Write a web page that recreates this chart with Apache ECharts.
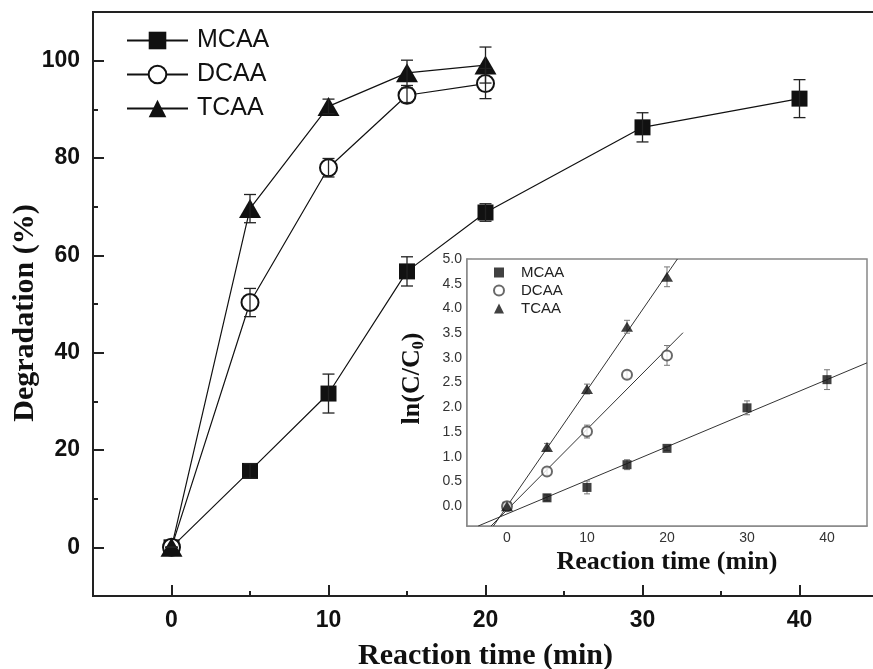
<!DOCTYPE html>
<html><head><meta charset="utf-8">
<script src="https://cdn.jsdelivr.net/npm/echarts@6/dist/echarts.min.js"></script>
<style>html,body{margin:0;padding:0;background:#fff}#c{width:873px;height:669px}</style>
</head><body><div id="c"></div>
<script>
// ---- data ----
const times = [0, 5, 10, 15, 20, 30, 40];
const timesShort = [0, 5, 10, 15, 20];
const mcaaDeg = [0, 15.7, 31.6, 56.7, 68.8, 86.3, 92.2];
const mcaaDegErr = [0, 1.5, 4.0, 3.0, 1.8, 3.0, 3.9];
const dcaaDeg = [0, 50.3, 78.0, 92.9, 95.3];
const dcaaDegErr = [0, 2.9, 1.9, 1.5, 3.1];
const tcaaDeg = [0, 69.6, 90.6, 97.5, 99.1];
const tcaaDegErr = [0, 2.9, 1.5, 2.6, 3.7];
const mcaaLn = [0, 0.17, 0.38, 0.84, 1.17, 1.99, 2.56];
const mcaaLnErr = [0, 0.06, 0.13, 0.10, 0.04, 0.14, 0.20];
const dcaaLn = [0, 0.70, 1.51, 2.66, 3.05];
const dcaaLnErr = [0, 0.07, 0.13, 0.07, 0.20];
const tcaaLn = [0, 1.20, 2.37, 3.63, 4.64];
const tcaaLnErr = [0, 0.07, 0.10, 0.13, 0.20];
const mcaaFit = [[-3.6, -0.4], [45, 2.9]];
const dcaaFit = [[-2.0, -0.4], [22, 3.51]];
const tcaaFit = [[-1.7, -0.4], [21.3, 5.0]];
const mainXTicks = [0, 10, 20, 30, 40];
const mainXMinor = [5, 15, 25, 35];
const mainYTicks = [0, 20, 40, 60, 80, 100];
const mainYMinor = [10, 30, 50, 70, 90];
const insetXTicks = [0, 10, 20, 30, 40];
const insetXMinor = [5, 15, 25, 35];
const insetYTicks = [0, 0.5, 1.0, 1.5, 2.0, 2.5, 3.0, 3.5, 4.0, 4.5, 5.0];
const insetYMinor = [-0.25, 0.25, 0.75, 1.25, 1.75, 2.25, 2.75, 3.25, 3.75, 4.25, 4.75];
const names = ['MCAA', 'DCAA', 'TCAA'];

const INK = '#111';
const GRAY = '#777';
const pairs = (xs, ys) => xs.map((x, i) => [x, ys[i]]);

function errSeries(xs, ys, es, ai, color, cap, lw) {
  return {
    type: 'custom', xAxisIndex: ai, yAxisIndex: ai, silent: true, z: 4,
    encode: { x: 0, y: [1, 2] },
    data: xs.map((x, i) => [x, ys[i] - es[i], ys[i] + es[i]]),
    renderItem(params, api) {
      const x = api.value(0);
      const lo = api.coord([x, api.value(1)]);
      const hi = api.coord([x, api.value(2)]);
      const st = { stroke: color, lineWidth: lw };
      return { type: 'group', children: [
        { type: 'line', shape: { x1: lo[0], y1: lo[1], x2: hi[0], y2: hi[1] }, style: st },
        { type: 'line', shape: { x1: lo[0] - cap, y1: lo[1], x2: lo[0] + cap, y2: lo[1] }, style: st },
        { type: 'line', shape: { x1: hi[0] - cap, y1: hi[1], x2: hi[0] + cap, y2: hi[1] }, style: st }
      ]};
    }
  };
}

function axis(base) {
  const a = Object.assign({ type: 'value', splitLine: { show: false }, nameMoveOverlap: false }, base);
  a.axisLine = Object.assign({ onZero: false }, a.axisLine || {});
  return a;
}
// tick-only axis
function tickAxis(grid, pos, min, max, values, len, color, w) {
  return axis({ gridIndex: grid, position: pos, min: min, max: max, axisLine: { show: false },
    axisTick: { show: true, inside: true, length: len, lineStyle: { color: color, width: w }, customValues: values },
    axisLabel: { show: false } });
}

const chart = echarts.init(document.getElementById('c'), null, { renderer: 'canvas' });
const mainLbl = { fontFamily: 'Liberation Sans', fontWeight: 'bold', fontSize: 23, color: INK };
const insetLbl = { fontFamily: 'Liberation Sans', fontSize: 14, color: '#333' };
const serifBold = { fontFamily: 'Liberation Serif', fontWeight: 'bold', color: INK };

chart.setOption({
  animation: false,
  backgroundColor: '#fff',
  grid: [
    { left: 93, top: 12, right: -5, bottom: 73, show: true, borderColor: '#222', borderWidth: 2,
      backgroundColor: 'transparent', outerBoundsMode: 'none', containLabel: false },
    { left: 467, top: 259, right: 6, bottom: 143, show: true, borderColor: '#888', borderWidth: 1.5,
      backgroundColor: '#fff', z: 1, outerBoundsMode: 'none', containLabel: false }
  ],
  xAxis: [
    axis({ gridIndex: 0, position: 'bottom', min: -5, max: 45,
      axisLine: { lineStyle: { color: '#222', width: 2 } },
      axisTick: { show: false },
      axisLabel: Object.assign({ margin: 13, customValues: mainXTicks }, mainLbl),
      name: 'Reaction time (min)', nameLocation: 'middle', nameGap: 45,
      nameTextStyle: Object.assign({ fontSize: 30 }, serifBold) }),
    tickAxis(0, 'bottom', -5, 45, mainXTicks, 11, '#222', 2),
    tickAxis(0, 'bottom', -5, 45, mainXMinor, 5, '#222', 2),
    axis({ gridIndex: 1, position: 'bottom', min: -5, max: 45,
      axisLine: { lineStyle: { color: GRAY, width: 1.5 } },
      axisTick: { show: false },
      axisLabel: Object.assign({ margin: 5, customValues: insetXTicks }, insetLbl),
      name: 'Reaction time (min)', nameLocation: 'middle', nameGap: 23,
      nameTextStyle: Object.assign({ fontSize: 26 }, serifBold) }),
    tickAxis(1, 'bottom', -5, 45, insetXTicks, 5, GRAY, 1.2),
    tickAxis(1, 'bottom', -5, 45, insetXMinor, 3, GRAY, 1.2)
  ],
  yAxis: [
    axis({ gridIndex: 0, position: 'left', min: -10, max: 110,
      axisLine: { lineStyle: { color: '#222', width: 2 } },
      axisTick: { show: false },
      axisLabel: Object.assign({ margin: 13, customValues: mainYTicks }, mainLbl),
      name: 'Degradation (%)', nameLocation: 'middle', nameGap: 53,
      nameTextStyle: Object.assign({ fontSize: 30, padding: [0, 18, 0, 0] }, serifBold) }),
    tickAxis(0, 'left', -10, 110, mainYTicks, 11, '#222', 2),
    tickAxis(0, 'left', -10, 110, mainYMinor, 5, '#222', 2),
    axis({ gridIndex: 1, position: 'left', min: -0.4, max: 5.0,
      axisLine: { lineStyle: { color: GRAY, width: 1.5 } },
      axisTick: { show: false },
      axisLabel: Object.assign({ margin: 5, customValues: insetYTicks, formatter: v => v.toFixed(1) }, insetLbl),
      name: '{a|ln(C/C}{s|0}{a|)}', nameLocation: 'middle', nameGap: 40,
      nameTextStyle: { padding: [0, 0, 0, 28], rich: {
        a: Object.assign({ fontSize: 26, lineHeight: 30 }, serifBold),
        s: Object.assign({ fontSize: 16, lineHeight: 30, verticalAlign: 'bottom' }, serifBold) } } }),
    tickAxis(1, 'left', -0.4, 5.0, insetYTicks, 5, GRAY, 1.2),
    tickAxis(1, 'left', -0.4, 5.0, insetYMinor, 3, GRAY, 1.2)
  ],
  legend: [
    { data: names, orient: 'vertical', left: 126, top: 28, padding: 0, itemWidth: 61, itemHeight: 22, itemGap: 9,
      textStyle: { fontFamily: 'Liberation Sans', fontSize: 25, color: INK, padding: [0, 0, 0, 4] } },
    { data: names.map(n => n + ' ln'), orient: 'vertical', left: 493, top: 265, padding: 0, itemWidth: 10, itemHeight: 10, itemGap: 3,
      formatter: n => n.replace(' ln', ''),
      textStyle: { fontFamily: 'Liberation Sans', fontSize: 15, color: '#222', padding: [0, 0, 0, 12] } }
  ],
  series: [
    { name: 'MCAA', type: 'line', xAxisIndex: 0, yAxisIndex: 0, data: pairs(times, mcaaDeg),
      symbol: 'rect', symbolSize: 16, color: INK, lineStyle: { color: INK, width: 1.2 }, itemStyle: { color: INK } },
    { name: 'DCAA', type: 'line', xAxisIndex: 0, yAxisIndex: 0, data: pairs(timesShort, dcaaDeg),
      symbol: 'emptyCircle', symbolSize: 17, color: INK, lineStyle: { color: INK, width: 1.2 }, itemStyle: { color: INK, borderWidth: 1.5 } },
    { name: 'TCAA', type: 'line', xAxisIndex: 0, yAxisIndex: 0, data: pairs(timesShort, tcaaDeg),
      symbol: 'triangle', symbolSize: [22, 19], color: INK, lineStyle: { color: INK, width: 1.2 }, itemStyle: { color: INK } },
    errSeries(times, mcaaDeg, mcaaDegErr, 0, '#222', 6, 1.3),
    errSeries(timesShort, dcaaDeg, dcaaDegErr, 0, '#222', 6, 1.3),
    errSeries(timesShort, tcaaDeg, tcaaDegErr, 0, '#222', 6, 1.3),
    // inset (axis index 3 = inset label axes)
    { type: 'line', xAxisIndex: 3, yAxisIndex: 3, data: mcaaFit, symbol: 'none', lineStyle: { color: '#333', width: 1 }, silent: true, z: 3 },
    { type: 'line', xAxisIndex: 3, yAxisIndex: 3, data: dcaaFit, symbol: 'none', lineStyle: { color: '#333', width: 1 }, silent: true, z: 3 },
    { type: 'line', xAxisIndex: 3, yAxisIndex: 3, data: tcaaFit, symbol: 'none', lineStyle: { color: '#333', width: 1 }, silent: true, z: 3 },
    errSeries(times, mcaaLn, mcaaLnErr, 3, GRAY, 3, 1),
    errSeries(timesShort, dcaaLn, dcaaLnErr, 3, GRAY, 3, 1),
    errSeries(timesShort, tcaaLn, tcaaLnErr, 3, GRAY, 3, 1),
    { name: 'MCAA ln', type: 'scatter', xAxisIndex: 3, yAxisIndex: 3, data: pairs(times, mcaaLn),
      symbol: 'rect', symbolSize: 9, itemStyle: { color: INK }, z: 5 },
    { name: 'DCAA ln', type: 'scatter', xAxisIndex: 3, yAxisIndex: 3, data: pairs(timesShort, dcaaLn),
      symbol: 'emptyCircle', symbolSize: 10, itemStyle: { color: '#444', borderWidth: 1 }, z: 5 },
    { name: 'TCAA ln', type: 'scatter', xAxisIndex: 3, yAxisIndex: 3, data: pairs(timesShort, tcaaLn),
      symbol: 'triangle', symbolSize: [12, 10], itemStyle: { color: INK }, z: 5 }
  ]
});
</script>
</body></html>
